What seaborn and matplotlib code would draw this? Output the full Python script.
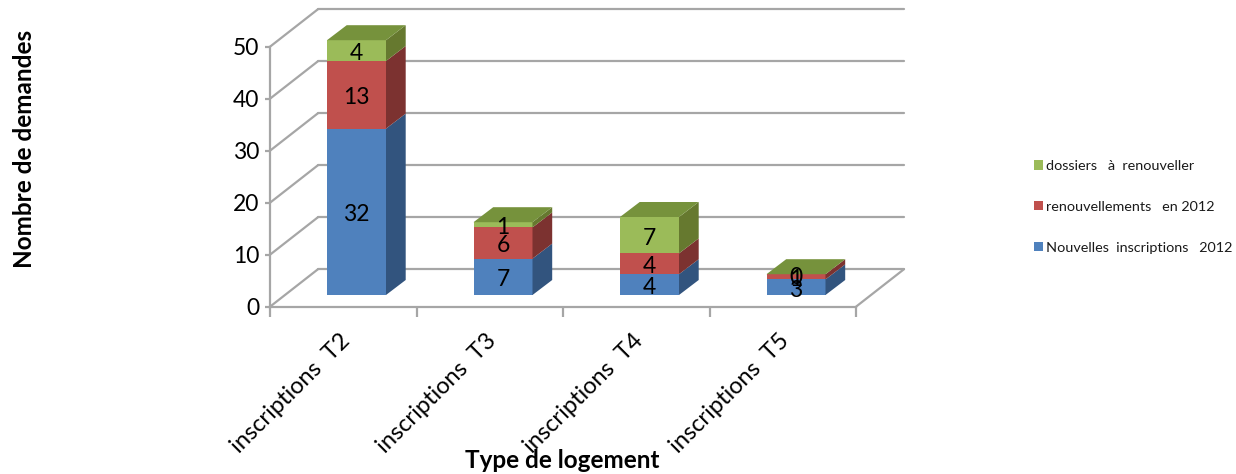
import matplotlib
matplotlib.use('Agg')
import matplotlib.pyplot as plt
import numpy as np
import seaborn as sns
from matplotlib.patches import Patch, Polygon
from matplotlib.transforms import Affine2D

categories = ['inscriptions  T2', 'inscriptions  T3', 'inscriptions  T4', 'inscriptions  T5']
nouvelles = [32, 7, 4, 3]
renouvellements = [13, 6, 4, 1]
dossiers = [4, 1, 7, 0]
y_ticks = [0, 10, 20, 30, 40, 50]
series_names = ['Nouvelles  inscriptions   2012', 'renouvellements   en 2012', 'dossiers   à  renouveller']

front_colors = ['#4F81BD', '#C0504D', '#9BBB59']
side_colors = ['#32547E', '#7C3230', '#66792F']
top_color = '#76923C'
grid_color = '#A6A6A6'

W, H = 1236, 474
sns.set_theme(style='white')
plt.rcParams['font.family'] = ['Lato', 'DejaVu Sans']

fig = plt.figure(figsize=(W / 100, H / 100), dpi=100)
# axes box is the front of the 3d floor and left wall
ax = fig.add_axes([270 / W, (H - 306.7) / H, 586 / W, 260 / H])

px_x = 586 / 4      # pixels per category
px_y = 260 / 50     # pixels per unit

# walls of the fake 3d box, depth given in data units
wall_dx = 48 / px_x
wall_dy = 37.5 / px_y
for v in y_ticks:
    ax.plot([-0.5, -0.5 + wall_dx], [v, v + wall_dy], color=grid_color, lw=1.6, clip_on=False, zorder=1)
    ax.plot([-0.5 + wall_dx, 3.5 + wall_dx], [v + wall_dy, v + wall_dy], color=grid_color, lw=1.6, clip_on=False, zorder=1)
ax.plot([3.5, 3.5 + wall_dx], [0, wall_dy], color=grid_color, lw=1.6, clip_on=False, zorder=1)

series = [nouvelles, renouvellements, dossiers]
bar_shift = ax.transData + Affine2D().translate(13.25, 11.7)
bar_w = 59 / px_x
depth_x = 19.7 / px_x
depth_y = 15 / px_y

bottom = np.zeros(len(categories))
for k, vals in enumerate(series):
    n_before = len(ax.patches)
    sns.barplot(x=categories, y=vals, bottom=bottom, color=front_colors[k], saturation=1,
                width=bar_w, ax=ax, zorder=3, linewidth=0, edgecolor='none')
    for p in ax.patches[n_before:]:
        p.set_transform(bar_shift)
        p.set_clip_on(False)
    for i, v in enumerate(vals):
        x1 = i + bar_w / 2
        y0, y1 = bottom[i], bottom[i] + v
        ax.add_patch(Polygon([(x1, y0), (x1 + depth_x, y0 + depth_y), (x1 + depth_x, y1 + depth_y), (x1, y1)],
                             closed=True, fc=side_colors[k], ec='none', transform=bar_shift, clip_on=False, zorder=3))
    bottom = bottom + np.array(vals)

# top faces
for i, t in enumerate(bottom):
    x0, x1 = i - bar_w / 2, i + bar_w / 2
    ax.add_patch(Polygon([(x0, t), (x1, t), (x1 + depth_x, t + depth_y), (x0 + depth_x, t + depth_y)],
                         closed=True, fc=top_color, ec='none', transform=bar_shift, clip_on=False, zorder=3))

# value labels, a bit below the middle of each segment like the original
label_shift = bar_shift + Affine2D().translate(0, -3)
bottom = np.zeros(len(categories))
for vals in series:
    for i, v in enumerate(vals):
        ax.text(i, bottom[i] + v / 2, str(v), ha='center', va='center', fontsize=16.5, color='black',
                transform=label_shift, zorder=5, clip_on=False)
    bottom = bottom + np.array(vals)

ax.set_xlim(-0.5, 3.5)
ax.set_ylim(0, 50)
ax.patch.set_visible(False)
for s in ['top', 'right']:
    ax.spines[s].set_visible(False)
for s in ['left', 'bottom']:
    ax.spines[s].set_color(grid_color)
    ax.spines[s].set_linewidth(1.6)
    ax.spines[s].set_zorder(2)

ax.set_yticks(y_ticks)
ax.tick_params(axis='y', length=3.6, width=1.6, color=grid_color, labelsize=16.5, pad=4, left=True, labelcolor='black')
ax.set_xticks(np.arange(-0.5, 4, 1))
ax.set_xticklabels([])
ax.tick_params(axis='x', which='major', length=7, width=1.6, color=grid_color, bottom=True)
# labels sit a little left of the category centre in the original
ax.set_xticks(np.arange(4) - 0.03, minor=True)
ax.set_xticklabels(categories, minor=True, rotation=45, ha='right', va='top', rotation_mode='anchor',
                   fontsize=17, color='black')
ax.tick_params(axis='x', which='minor', length=0, pad=17, bottom=True)
ax.set_xlabel('')
ax.set_ylabel('')

fig.text(562 / W, 1 - 461 / H, 'Type de logement', ha='center', va='center', fontsize=17.5, fontweight='bold', color='black')
fig.text(25 / W, 1 - 149 / H, 'Nombre de demandes', ha='center', va='center', rotation=90, fontsize=17.5, fontweight='bold', color='black')

handles = [Patch(fc=front_colors[k], ec='none', label=series_names[k]) for k in [2, 1, 0]]
fig.legend(handles=handles, loc='center left', bbox_to_anchor=(1027 / W, 1 - 207 / H), frameon=False,
           fontsize=10.4, handlelength=0.6, handleheight=0.6, handletextpad=0.25, labelspacing=2.0,
           labelcolor='#1a1a1a', borderpad=0)

fig.savefig('out.png', dpi=100, facecolor='white')
